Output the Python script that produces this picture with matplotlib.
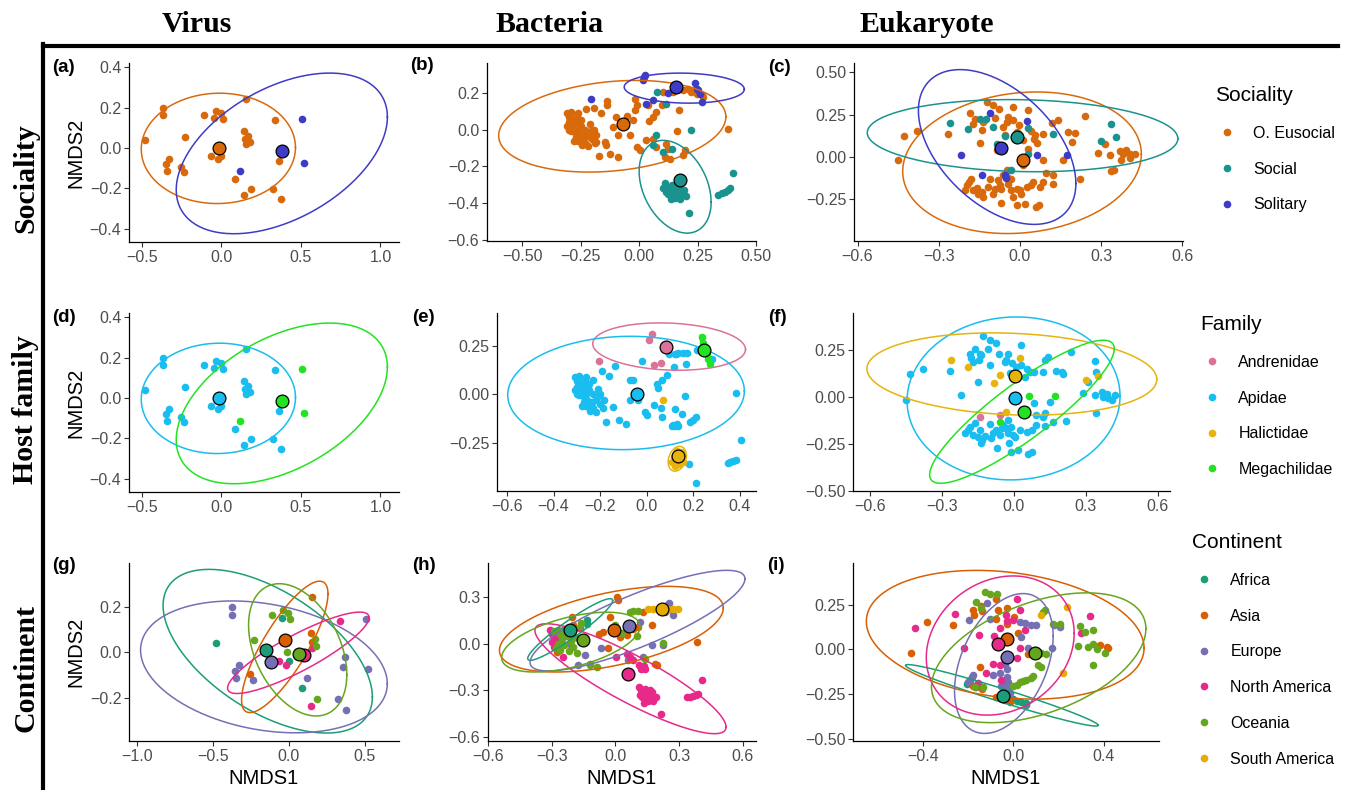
import numpy as np
import matplotlib.pyplot as plt
from matplotlib.lines import Line2D

plt.rcParams['font.family'] = ['Liberation Sans', 'DejaVu Sans']

# ---------------- colours ----------------
soc_names = ['O. Eusocial', 'Social', 'Solitary']
soc_col = {'O. Eusocial': '#D96A0C', 'Social': '#1A938F', 'Solitary': '#3E3BC6'}
fam_names = ['Andrenidae', 'Apidae', 'Halictidae', 'Megachilidae']
fam_col = {'Andrenidae': '#DA7397', 'Apidae': '#19BDF0', 'Halictidae': '#E6B40A', 'Megachilidae': '#22E322'}
cont_names = ['Africa', 'Asia', 'Europe', 'North America', 'Oceania', 'South America']
cont_col = {'Africa': '#1B9E77', 'Asia': '#D95F02', 'Europe': '#7570B3',
            'North America': '#E7298A', 'Oceania': '#66A61E', 'South America': '#E6AB02'}

# ---------------- virus samples (same points in a, d, g) ----------------
virus_x = [-0.48, -0.37, -0.37, -0.23, -0.33, -0.35, -0.345, -0.255, -0.235, -0.11, -0.035, -0.045,
           -0.005, 0.01, -0.065, -0.02, 0.155, 0.145, 0.17, 0.155, 0.18, 0.15, 0.335, 0.36, 0.085,
           0.185, 0.145, 0.325, 0.375, 0.51, 0.52, 0.12, 0.37, -0.01, 0.0]
virus_y = [0.04, 0.20, 0.165, 0.055, -0.055, -0.08, -0.115, -0.095, -0.12, 0.165, 0.185, 0.15,
           0.175, 0.145, -0.04, -0.055, 0.245, 0.085, 0.06, 0.02, 0.03, 0.045, 0.14, -0.065, -0.155,
           -0.205, -0.235, -0.205, -0.255, 0.145, -0.075, -0.115, -0.02, 0.0, -0.04]
virus_soc = ['O. Eusocial'] * 29 + ['Solitary'] * 3 + ['O. Eusocial'] * 3
virus_fam = ['Apidae'] * 29 + ['Megachilidae'] * 3 + ['Apidae'] * 3
virus_cont = ['Africa', 'Europe', 'Europe', 'Oceania', 'Europe', 'Europe', 'Europe', 'Asia', 'Europe',
              'Oceania', 'Oceania', 'Africa', 'Oceania', 'Oceania', 'North America', 'North America',
              'Asia', 'Asia', 'Oceania', 'North America', 'Oceania', 'Asia', 'North America', 'Europe',
              'Africa', 'Oceania', 'North America', 'Europe', 'Europe', 'Europe', 'Europe', 'Europe',
              'Europe', 'Oceania', 'Africa']

# ---------------- bacteria, sociality (b) ----------------
b_cluster = [(-0.31, 0.09), (-0.30, 0.07), (-0.29, 0.095), (-0.285, 0.06), (-0.30, 0.04), (-0.29, 0.03),
             (-0.31, 0.02), (-0.28, 0.01), (-0.27, 0.04), (-0.265, 0.075), (-0.275, -0.01), (-0.29, -0.005),
             (-0.26, 0.0), (-0.25, 0.02), (-0.255, -0.03), (-0.27, -0.04), (-0.24, -0.05), (-0.26, -0.06),
             (-0.245, -0.085), (-0.23, -0.07), (-0.22, -0.03), (-0.23, 0.0), (-0.21, -0.01), (-0.20, -0.05),
             (-0.21, 0.03), (-0.19, -0.07), (-0.22, -0.09), (-0.275, 0.05), (-0.30, 0.0), (-0.28, -0.06),
             (-0.25, 0.055), (-0.235, -0.04), (-0.2, 0.0), (-0.185, -0.03), (-0.26, 0.09)]
b_eusocial = b_cluster + [
    (-0.194, 0.0), (-0.211, -0.04), (-0.183, -0.067), (-0.147, -0.067), (-0.14, -0.085),
    (-0.226, 0.115), (-0.193, 0.12), (-0.164, 0.093), (-0.139, 0.155), (-0.136, 0.136),
    (-0.097, 0.069), (-0.054, 0.073), (-0.09, -0.031), (-0.04, -0.031), (-0.111, 0.015),
    (-0.173, -0.145), (-0.123, -0.133), (-0.09, -0.149),
    (-0.019, 0.169), (-0.009, 0.136), (-0.019, 0.105), (0.039, 0.133), (-0.026, 0.051), (0.043, 0.045),
    (0.06, 0.069), (0.074, 0.096), (0.096, 0.136), (0.171, 0.109), (0.16, -0.009),
    (-0.009, -0.095), (0.003, -0.113), (0.031, -0.058), (0.06, -0.049), (0.074, -0.095), (0.117, -0.076),
    (0.124, -0.104), (0.11, -0.149), (0.131, -0.158), (0.189, -0.14), (0.196, -0.113),
    (0.103, 0.205), (0.146, 0.205), (0.189, 0.218), (0.21, 0.224), (0.22, 0.205), (0.231, 0.215),
    (0.246, 0.196), (0.267, 0.187), (0.274, 0.178), (0.381, 0.005)]
b_pinkcluster = [(0.11, -0.29), (0.12, -0.31), (0.13, -0.33), (0.14, -0.30), (0.15, -0.32), (0.16, -0.34),
                 (0.14, -0.36), (0.125, -0.35), (0.17, -0.31), (0.18, -0.35), (0.155, -0.37), (0.135, -0.38),
                 (0.19, -0.33), (0.115, -0.34), (0.165, -0.29), (0.175, -0.38), (0.2, -0.36), (0.145, -0.345),
                 (0.13, -0.315), (0.1, -0.32)]
b_streak = [(0.339, -0.355), (0.353, -0.347), (0.367, -0.338), (0.381, -0.329), (0.39, -0.32),
            (0.403, -0.235), (0.213, -0.453)]
b_social = [(0.077, 0.205), (0.117, 0.138), (0.074, -0.031), (0.06, -0.085), (0.139, -0.104),
            (0.224, -0.004), (0.1, -0.12)] + b_pinkcluster + b_streak
b_solitary = [(0.02, 0.29), (0.025, 0.3), (0.017, 0.27), (-0.207, 0.169), (0.031, 0.142), (0.06, 0.16),
              (0.124, 0.202), (0.239, 0.255), (0.246, 0.224), (0.26, 0.196), (0.271, 0.151), (0.25, 0.215)]

# ---------------- eukaryote, sociality (c) ----------------
c_eusocial = [
    (-0.43, 0.122), (-0.449, -0.016), (-0.381, 0.154), (-0.264, 0.138), (-0.185, 0.26), (-0.166, 0.226),
    (-0.172, 0.193), (-0.138, 0.207), (-0.139, 0.157), (-0.148, 0.083), (-0.123, 0.325), (-0.101, 0.309),
    (-0.076, 0.285), (-0.092, 0.232), (-0.062, 0.177), (-0.047, 0.207), (-0.043, 0.236), (-0.025, 0.22),
    (-0.002, 0.187), (-0.012, 0.148), (0.012, 0.098), (0.031, 0.28), (0.043, 0.152), (0.055, 0.128),
    (0.062, 0.083), (0.084, 0.138), (0.053, 0.108), (0.117, 0.201), (0.141, 0.217), (0.178, 0.148),
    (0.203, 0.142), (0.191, 0.089), (0.24, 0.242), (-0.025, 0.295), (-0.055, 0.128), (-0.086, 0.039),
    (0.012, -0.049), (0.031, 0.049), (0.086, -0.02), (0.16, -0.02), (0.289, 0.024), (0.314, 0.079),
    (0.332, 0.01), (0.338, -0.083), (0.347, -0.079), (0.369, 0.033), (0.381, 0.02), (0.394, 0.039),
    (0.406, -0.004), (0.408, 0.016), (0.424, 0.016), (0.375, -0.02),
    (-0.197, -0.167), (-0.187, -0.148), (-0.182, -0.128), (-0.203, -0.193), (-0.172, -0.197),
    (-0.16, -0.181), (-0.154, -0.22), (-0.141, -0.207), (-0.135, -0.236), (-0.117, -0.177),
    (-0.111, -0.128), (-0.098, -0.217), (-0.092, -0.187), (-0.08, -0.138), (-0.074, -0.167),
    (-0.068, -0.187), (-0.049, -0.118), (-0.043, -0.157), (-0.031, -0.128), (-0.031, -0.197),
    (-0.025, -0.236), (-0.012, -0.187), (0.0, -0.197), (0.006, -0.217), (-0.012, -0.285),
    (-0.071, -0.272), (0.025, -0.177), (0.043, -0.167), (0.049, -0.148), (0.074, -0.177),
    (0.084, -0.148), (0.096, -0.094), (0.123, -0.108), (0.123, -0.157), (0.018, -0.28), (0.059, -0.295),
    (0.071, -0.285), (0.221, -0.128), (-0.049, -0.079), (-0.062, -0.108)]
c_social = [(-0.258, 0.2), (-0.19, 0.163), (-0.148, 0.222), (-0.125, 0.222), (-0.098, 0.177), (-0.055, 0.122),
            (-0.084, 0.075), (0.031, 0.171), (0.123, 0.134), (0.031, 0.016), (-0.034, -0.079),
            (0.301, 0.093), (0.338, 0.193), (0.354, 0.118)]
c_solitary = [(-0.111, 0.262), (0.025, 0.213), (-0.218, 0.014), (0.062, 0.01), (0.175, 0.01),
              (-0.14, -0.104), (-0.053, -0.124), (-0.055, -0.105)]

# ---------------- bacteria, family (e) ----------------
e_apidae = b_cluster + [
    (-0.229, 0.072), (-0.193, 0.119), (-0.164, 0.093), (-0.136, 0.146), (-0.143, -0.065), (-0.174, -0.143),
    (-0.121, -0.131), (-0.091, -0.151), (-0.071, 0.072), (-0.057, 0.072), (-0.071, -0.031), (-0.036, -0.031),
    (-0.02, 0.17), (-0.007, -0.091), (0.0, -0.108), (0.033, -0.057), (0.043, 0.055), (0.05, 0.034),
    (0.064, 0.072), (0.06, -0.07), (0.064, -0.117), (0.086, 0.098), (0.117, 0.141), (0.121, -0.074),
    (0.114, -0.16), (0.107, -0.165), (0.121, -0.165), (0.129, -0.155), (0.136, -0.165), (0.15, -0.1),
    (0.164, -0.01), (0.169, 0.158), (0.2, -0.131), (0.186, -0.143), (0.211, -0.117), (0.154, 0.215),
    (0.174, 0.215), (0.097, 0.21), (0.121, 0.21), (0.136, 0.213), (0.214, 0.23), (0.279, 0.184),
    (0.383, 0.007), (0.403, -0.237), (0.35, -0.352), (0.357, -0.348), (0.371, -0.343), (0.383, -0.34),
    (0.183, -0.357), (0.211, -0.457)]
e_andrenidae = [(-0.204, 0.172), (0.021, 0.309), (0.011, 0.278), (0.029, 0.149), (0.06, 0.163), (0.126, 0.206)]
e_halictidae = [(0.071, -0.031), (0.12, -0.31), (0.13, -0.33), (0.14, -0.32), (0.125, -0.345), (0.145, -0.34),
                (0.135, -0.355), (0.115, -0.325), (0.15, -0.31), (0.14, -0.36), (0.13, -0.29), (0.11, -0.35),
                (0.155, -0.35), (0.12, -0.37), (0.145, -0.295)]
e_megachilidae = [(0.236, 0.296), (0.243, 0.265), (0.25, 0.24), (0.257, 0.21), (0.264, 0.18), (0.271, 0.157)]

# ---------------- eukaryote, family (f) ----------------
f_apidae = [
    (-0.45, -0.016), (-0.431, 0.122), (-0.378, 0.152), (-0.264, 0.138), (-0.218, 0.011), (-0.149, 0.081),
    (-0.163, 0.258), (-0.181, 0.228), (-0.169, 0.188), (-0.176, 0.211), (-0.142, 0.232), (-0.128, 0.324),
    (-0.1, 0.306), (-0.107, 0.258), (-0.135, 0.223), (-0.144, 0.2), (-0.1, 0.173), (-0.075, 0.288),
    (-0.061, 0.227), (-0.037, 0.188), (-0.024, 0.228), (-0.031, 0.2), (-0.006, 0.182), (-0.003, 0.126),
    (-0.014, 0.126), (0.011, 0.161), (0.029, 0.28), (0.032, 0.17), (0.046, 0.108), (0.053, 0.152),
    (0.069, 0.135), (0.083, 0.135), (0.122, 0.135), (0.129, 0.196), (0.143, 0.214), (0.175, 0.138),
    (0.199, 0.135), (0.206, 0.122), (0.24, 0.241), (0.338, 0.191), (0.344, 0.135), (0.289, 0.023),
    (0.31, 0.081), (0.338, 0.011), (0.365, 0.028), (0.372, 0.002), (0.386, 0.019), (0.393, -0.007),
    (0.407, -0.016), (0.421, 0.011), (0.344, -0.087), (0.15, -0.025), (0.083, -0.03), (0.094, -0.096),
    (0.122, -0.108), (0.129, -0.154), (0.164, -0.131), (0.219, -0.126), (0.129, -0.087),
    (-0.204, -0.189), (-0.19, -0.175), (-0.183, -0.158), (-0.169, -0.202), (-0.163, -0.14),
    (-0.142, -0.175), (-0.149, -0.211), (-0.131, -0.228), (-0.121, -0.207), (-0.135, -0.246),
    (-0.093, -0.219), (-0.086, -0.189), (-0.072, -0.175), (-0.069, -0.273), (-0.058, -0.202),
    (-0.051, -0.166), (-0.044, -0.149), (-0.031, -0.166), (-0.024, -0.193), (-0.019, -0.246),
    (-0.01, -0.158), (-0.003, -0.202), (0.004, -0.211), (-0.01, -0.29), (0.018, -0.281), (0.025, -0.175),
    (0.053, -0.184), (0.074, -0.175), (0.094, -0.149), (0.06, -0.303), (0.074, -0.29), (-0.1, -0.143),
    (-0.024, -0.122)]
f_andrenidae = [(-0.142, -0.104), (-0.056, -0.096)]
f_halictidae = [(-0.26, 0.196), (-0.19, 0.161), (-0.056, 0.12), (-0.082, 0.076), (0.025, 0.211),
                (0.3, 0.09), (0.351, 0.113), (-0.033, -0.081)]
f_megachilidae = [(0.064, 0.007), (0.172, 0.007), (-0.056, -0.131)]

# ---------------- bacteria, continent (h) ----------------
h_africa = [(-0.135, 0.15), (-0.132, 0.124), (-0.245, 0.086), (-0.229, 0.064), (-0.276, 0.021)]
h_asia = [(0.014, 0.278), (0.009, 0.3), (-0.025, 0.171), (-0.057, 0.075), (-0.075, 0.064), (-0.033, -0.026),
          (0.022, 0.043), (0.053, 0.054), (0.085, 0.096), (0.104, 0.107), (0.171, 0.118), (0.129, 0.203),
          (0.383, 0.011), (0.187, -0.128), (0.195, -0.139), (-0.206, 0.171), (-0.198, 0.118), (-0.276, -0.054)]
h_europe = [(0.242, 0.246), (0.257, 0.225), (0.273, 0.182), (0.234, 0.203), (0.25, 0.261), (0.116, 0.139),
            (-0.069, -0.028), (-0.143, -0.075), (-0.119, -0.128), (-0.174, -0.139), (0.226, -0.006),
            (0.171, -0.011), (0.061, -0.107), (0.132, -0.086), (-0.213, 0.0), (-0.166, 0.1)]
h_namerica = [(0.11, -0.28), (0.12, -0.3), (0.13, -0.32), (0.14, -0.29), (0.15, -0.33), (0.16, -0.35),
              (0.14, -0.36), (0.125, -0.34), (0.17, -0.31), (0.18, -0.35), (0.155, -0.37), (0.135, -0.38),
              (0.19, -0.34), (0.115, -0.33), (0.165, -0.3), (0.175, -0.37), (0.145, -0.345), (0.13, -0.31),
              (0.336, -0.345), (0.35, -0.34), (0.365, -0.335), (0.378, -0.33), (0.39, -0.32),
              (0.407, -0.231), (0.215, -0.45), (0.11, -0.14), (0.125, -0.15), (0.14, -0.16), (0.12, -0.16),
              (0.135, -0.145), (0.003, -0.086), (0.053, -0.064), (0.069, -0.086), (0.085, -0.107),
              (-0.31, 0.086), (-0.3, 0.06), (-0.29, 0.03), (-0.28, 0.0), (-0.3, 0.01), (-0.27, 0.05),
              (-0.29, -0.02), (-0.245, -0.086)]
h_oceania = [(-0.29, 0.08), (-0.27, 0.09), (-0.26, 0.06), (-0.25, 0.03), (-0.27, 0.0), (-0.24, -0.01),
             (-0.26, -0.04), (-0.23, 0.05), (-0.21, 0.02), (-0.22, -0.05), (-0.2, -0.02), (-0.19, 0.04),
             (-0.18, -0.06), (-0.24, 0.07), (-0.28, -0.03), (-0.17, 0.1), (-0.16, 0.13), (-0.088, -0.15),
             (-0.12, -0.14), (0.085, 0.208), (0.104, 0.208), (0.069, 0.203), (0.226, 0.006), (0.14, -0.096),
             (0.1, 0.05), (0.0, 0.12), (0.03, 0.07)]
h_samerica = [(0.155, 0.221), (0.179, 0.225), (0.242, 0.218), (0.273, 0.223), (0.297, 0.223)]

# ---------------- eukaryote, continent (i) ----------------
i_africa = [(-0.192, -0.183), (-0.204, -0.193), (0.015, -0.285), (0.037, -0.291), (0.059, -0.3),
            (0.056, -0.306), (0.0, -0.278)]
i_asia = [(-0.45, -0.019), (-0.379, 0.154), (-0.268, 0.135), (-0.177, 0.219), (-0.173, 0.191), (-0.14, 0.241),
          (-0.136, 0.215), (-0.077, 0.283), (-0.066, 0.219), (-0.029, 0.233), (0.004, 0.181), (-0.077, 0.172),
          (0.022, 0.093), (0.066, -0.026), (-0.147, -0.1), (-0.177, -0.204), (-0.136, -0.222),
          (-0.074, -0.263), (-0.037, -0.281), (-0.015, -0.291), (0.386, 0.024), (0.413, 0.015),
          (0.42, 0.006), (-0.029, 0.141)]
i_europe = [(-0.115, 0.261), (-0.103, 0.172), (0.029, 0.154), (0.052, 0.148), (0.081, 0.135), (0.103, 0.135),
            (0.037, 0.067), (0.066, 0.009), (0.174, 0.009), (0.18, 0.135), (0.206, 0.126), (-0.195, 0.163),
            (-0.184, -0.152), (-0.177, -0.143), (-0.199, -0.18), (-0.192, -0.167), (-0.088, -0.143),
            (-0.059, -0.133), (-0.029, -0.152), (-0.022, -0.18), (-0.037, -0.189), (-0.015, -0.207),
            (-0.052, -0.204), (-0.044, -0.217), (-0.027, -0.106), (-0.037, -0.078), (-0.012, -0.244)]
i_namerica = [(-0.435, 0.122), (-0.258, 0.2), (-0.218, 0.011), (-0.152, 0.08), (-0.084, 0.074), (-0.059, 0.122),
              (-0.032, 0.191), (0.0, 0.163), (0.019, 0.278), (0.029, 0.219), (0.052, 0.107), (0.029, 0.011),
              (0.015, -0.05), (-0.059, -0.087), (-0.088, -0.083), (-0.118, -0.133), (-0.052, -0.17),
              (-0.155, -0.189), (-0.162, -0.207), (0.339, 0.187), (0.298, 0.093), (-0.029, 0.159)]
i_oceania = [(-0.125, 0.32), (-0.103, 0.311), (-0.165, 0.265), (-0.14, 0.228), (-0.071, 0.307), (0.111, -0.087),
             (0.125, -0.1), (0.081, -0.161), (0.088, -0.148), (0.059, -0.17), (0.044, -0.174), (0.029, -0.18),
             (0.015, -0.198), (0.0, -0.204), (0.14, 0.219), (0.133, 0.209), (0.177, 0.144), (0.206, 0.141),
             (0.295, 0.13), (0.317, 0.098), (0.351, 0.111), (0.288, 0.019), (0.332, 0.015), (0.354, 0.033),
             (0.369, 0.0), (0.406, -0.019), (0.351, -0.087), (0.147, -0.026), (0.125, -0.022),
             (-0.17, -0.207), (-0.133, -0.211)]
i_samerica = [(0.125, 0.194), (0.239, 0.237), (0.221, -0.133)]

# ---------------- centroids ----------------
a_cent = {'O. Eusocial': (-0.015, 0.0), 'Solitary': (0.38, -0.015)}
b_cent = {'O. Eusocial': (-0.069, 0.029), 'Social': (0.174, -0.273), 'Solitary': (0.157, 0.233)}
c_cent = {'O. Eusocial': (0.012, -0.016), 'Social': (-0.012, 0.118), 'Solitary': (-0.071, 0.055)}
d_cent = {'Apidae': (-0.015, 0.0), 'Megachilidae': (0.38, -0.015)}
e_cent = {'Andrenidae': (0.081, 0.244), 'Apidae': (-0.04, 0.003), 'Halictidae': (0.136, -0.32),
          'Megachilidae': (0.247, 0.227)}
f_cent = {'Apidae': (0.004, -0.004), 'Halictidae': (0.007, 0.112), 'Megachilidae': (0.042, -0.078)}
g_cent = {'Africa': (-0.149, 0.009), 'Asia': (-0.022, 0.056), 'Europe': (-0.116, -0.042),
          'North America': (0.103, -0.013), 'Oceania': (0.07, -0.006)}
h_cent = {'Africa': (-0.214, 0.086), 'Asia': (-0.005, 0.09), 'Europe': (0.066, 0.111),
          'North America': (0.057, -0.197), 'Oceania': (-0.151, 0.026), 'South America': (0.221, 0.221)}
i_cent = {'Africa': (-0.044, -0.257), 'Asia': (-0.027, 0.061), 'Europe': (-0.029, -0.041),
          'North America': (-0.066, 0.028), 'Oceania': (0.097, -0.019)}

# ---------------- ellipses: centre x, centre y, half width, half height, x-offset of top point ----------------
a_ell = {'O. Eusocial': (-0.019, -0.002, 0.485, 0.274, 0.008), 'Solitary': (0.38, -0.027, 0.664, 0.399, 0.301)}
b_ell = {'O. Eusocial': (-0.115, 0.019, 0.486, 0.25, 0.1), 'Social': (0.154, -0.311, 0.154, 0.253, -0.051),
         'Solitary': (0.193, 0.227, 0.257, 0.082, -0.019)}
c_ell = {'O. Eusocial': (0.008, -0.034, 0.441, 0.418, 0.054), 'Social': (0.01, 0.126, 0.574, 0.213, -0.047),
         'Solitary': (-0.084, 0.059, 0.291, 0.457, -0.137)}
d_ell = {'Apidae': (-0.019, -0.002, 0.485, 0.274, 0.008), 'Megachilidae': (0.38, -0.027, 0.664, 0.399, 0.301)}
e_ell = {'Andrenidae': (0.096, 0.246, 0.328, 0.122, -0.039), 'Apidae': (-0.089, 0.007, 0.508, 0.292, 0.018),
         'Halictidae': (0.131, -0.332, 0.039, 0.064, 0.01), 'Megachilidae': (0.253, 0.227, 0.025, 0.077, -0.023)}
f_ell = {'Apidae': (-0.001, -0.007, 0.443, 0.434, 0.0125), 'Halictidae': (-0.008, 0.123, 0.603, 0.219, -0.078),
         'Megachilidae': (0.034, -0.078, 0.384, 0.381, 0.338)}
g_ell = {'Africa': (-0.138, 0.005, 0.688, 0.36, -0.385), 'Asia': (-0.026, 0.024, 0.284, 0.289, 0.229),
         'Europe': (-0.163, -0.064, 0.811, 0.29, -0.207), 'North America': (0.063, -0.002, 0.465, 0.179, 0.403),
         'Oceania': (0.059, 0.011, 0.323, 0.291, -0.121)}
h_ell = {'Africa': (-0.213, 0.091, 0.2, 0.198, 0.188), 'Asia': (-0.019, 0.093, 0.527, 0.275, 0.261),
         'Europe': (0.104, 0.148, 0.506, 0.323, 0.42), 'North America': (0.071, -0.225, 0.45, 0.353, -0.395),
         'Oceania': (-0.21, 0.01, 0.326, 0.192, 0.169), 'South America': (0.226, 0.223, 0.078, 0.013, 0.0)}
i_ell = {'Africa': (-0.05, -0.255, 0.426, 0.171, -0.415), 'Asia': (-0.035, 0.082, 0.614, 0.358, -0.127),
         'Europe': (-0.041, -0.078, 0.218, 0.389, 0.085), 'North America': (-0.057, 0.022, 0.327, 0.387, 0.057),
         'Oceania': (0.113, -0.046, 0.474, 0.361, 0.212)}


def group_points(xs, ys, labels):
    out = {}
    for x, y, g in zip(xs, ys, labels):
        out.setdefault(g, []).append((x, y))
    return out


def ellipse_xy(cx, cy, a, b, dx_top):
    t = np.linspace(0, 2 * np.pi, 300)
    phi = np.arcsin(np.clip(dx_top / a, -1, 1))
    return cx + a * np.cos(t), cy + b * np.sin(t + phi)


def lab(v, d):
    return f"{v:.{d}f}".replace('-', '\u2212')


W, H = 1349, 790
fig = plt.figure(figsize=(W / 100, H / 100), dpi=100)


def panel(box, groups, order, colors, cents, ells, xlim, ylim, xticks, yticks, xd, yd, tag):
    l, r, t, b = box
    ax = fig.add_axes([l / W, 1 - b / H, (r - l) / W, (b - t) / H])
    for g in order:
        if g in groups:
            xs, ys = zip(*groups[g])
            ax.scatter(xs, ys, s=30, color=colors[g], linewidths=0, zorder=2)
    for g in order:
        if g in ells:
            ex, ey = ellipse_xy(*ells[g])
            ax.plot(ex, ey, color=colors[g], lw=1.1, zorder=3)
    for g in order:
        if g in cents:
            ax.scatter([cents[g][0]], [cents[g][1]], s=85, color=colors[g], edgecolors='black',
                       linewidths=0.9, zorder=4)
    ax.set_xlim(*xlim)
    ax.set_ylim(*ylim)
    ax.set_xticks(xticks, [lab(v, xd) for v in xticks])
    ax.set_yticks(yticks, [lab(v, yd) for v in yticks])
    for s in ['top', 'right']:
        ax.spines[s].set_visible(False)
    for s in ['left', 'bottom']:
        ax.spines[s].set_linewidth(0.9)
    ax.tick_params(labelsize=11.5, labelcolor='#4D4D4D', color='#333333', length=3.5, width=0.8, pad=2)
    fig.text(tag[1] / W, 1 - tag[2] / H, tag[0], fontsize=13.5, fontweight='bold', ha='left', va='center')
    return ax


virus_lim = ((-0.581, 1.117), (-0.467, 0.422))
ax = panel((129, 399, 63, 242), group_points(virus_x, virus_y, virus_soc), soc_names, soc_col, a_cent, a_ell,
           *virus_lim, [-0.5, 0.0, 0.5, 1.0], [-0.4, -0.2, 0.0, 0.2, 0.4], 1, 1, ('(a)', 52, 68))
ax.set_ylabel('NMDS2', fontsize=14.5, labelpad=3)
panel((487, 756, 63, 241), {'O. Eusocial': b_eusocial, 'Social': b_social, 'Solitary': b_solitary},
      soc_names, soc_col, b_cent, b_ell, (-0.651, 0.5), (-0.607, 0.364),
      [-0.5, -0.25, 0.0, 0.25, 0.5], [-0.6, -0.4, -0.2, 0.0, 0.2], 2, 1, ('(b)', 410, 66))
panel((854, 1183, 63, 241), {'O. Eusocial': c_eusocial, 'Social': c_social, 'Solitary': c_solitary},
      soc_names, soc_col, c_cent, c_ell, (-0.613, 0.603), (-0.496, 0.555),
      [-0.6, -0.3, 0.0, 0.3, 0.6], [-0.25, 0.0, 0.25, 0.5], 1, 2, ('(c)', 768, 68))

ax = panel((129, 399, 313, 492), group_points(virus_x, virus_y, virus_fam), fam_names, fam_col, d_cent, d_ell,
           *virus_lim, [-0.5, 0.0, 0.5, 1.0], [-0.4, -0.2, 0.0, 0.2, 0.4], 1, 1, ('(d)', 52, 318))
ax.set_ylabel('NMDS2', fontsize=14.5, labelpad=3)
panel((497, 756, 313, 491), {'Andrenidae': e_andrenidae, 'Apidae': e_apidae, 'Halictidae': e_halictidae,
                             'Megachilidae': e_megachilidae},
      fam_names, fam_col, e_cent, e_ell, (-0.643, 0.469), (-0.498, 0.419),
      [-0.6, -0.4, -0.2, 0.0, 0.2, 0.4], [-0.25, 0.0, 0.25], 1, 2, ('(e)', 412, 318))
panel((853, 1170, 313, 491), {'Andrenidae': f_andrenidae, 'Apidae': f_apidae, 'Halictidae': f_halictidae,
                              'Megachilidae': f_megachilidae},
      fam_names, fam_col, f_cent, f_ell, (-0.669, 0.65), (-0.5, 0.448),
      [-0.6, -0.3, 0.0, 0.3, 0.6], [-0.5, -0.25, 0.0, 0.25], 1, 2, ('(f)', 768, 318))

ax = panel((129, 399, 563, 741), group_points(virus_x, virus_y, virus_cont), cont_names, cont_col, g_cent, g_ell,
           (-1.05, 0.725), (-0.39, 0.393), [-1.0, -0.5, 0.0, 0.5], [-0.2, 0.0, 0.2], 1, 1, ('(g)', 52, 566))
ax.set_ylabel('NMDS2', fontsize=14.5, labelpad=3)
ax.set_xlabel('NMDS1', fontsize=14.5, labelpad=4)
ax = panel((488, 756, 563, 741), {'Africa': h_africa, 'Asia': h_asia, 'Europe': h_europe,
                                  'North America': h_namerica, 'Oceania': h_oceania, 'South America': h_samerica},
           cont_names, cont_col, h_cent, h_ell, (-0.598, 0.662), (-0.625, 0.518),
           [-0.6, -0.3, 0.0, 0.3, 0.6], [-0.6, -0.3, 0.0, 0.3], 1, 1, ('(h)', 412, 566))
ax.set_xlabel('NMDS1', fontsize=14.5, labelpad=4)
ax = panel((853, 1159, 563, 741), {'Africa': i_africa, 'Asia': i_asia, 'Europe': i_europe,
                                   'North America': i_namerica, 'Oceania': i_oceania, 'South America': i_samerica},
           cont_names, cont_col, i_cent, i_ell, (-0.708, 0.645), (-0.509, 0.481),
           [-0.4, 0.0, 0.4], [-0.5, -0.25, 0.0, 0.25], 1, 2, ('(i)', 767, 566))
ax.set_xlabel('NMDS1', fontsize=14.5, labelpad=4)


def add_legend(title, names, colors, x, y):
    handles = [Line2D([], [], marker='o', ls='none', color=colors[n], markersize=4.5) for n in names]
    fig.legend(handles, names, title=title, loc='upper left', bbox_to_anchor=(x / W, 1 - y / H),
               frameon=False, fontsize=11.5, title_fontsize=15, handlelength=1.5, handletextpad=0.9,
               labelspacing=1.3, borderpad=0, borderaxespad=0, alignment='left')


add_legend('Sociality', soc_names, soc_col, 1215, 86)
add_legend('Family', fam_names, fam_col, 1200, 315)
add_legend('Continent', cont_names, cont_col, 1192, 533)

# column / row headers
serif = dict(family=['Liberation Serif', 'DejaVu Serif'], fontweight='bold', fontsize=21.5)
for name, x in [('Virus', 197), ('Bacteria', 550), ('Eukaryote', 927)]:
    fig.text(x / W, 1 - 25 / H, name, ha='center', va='center', **serif)
for name, y in [('Sociality', 178), ('Host family', 410), ('Continent', 668)]:
    fig.text(26 / W, 1 - y / H, name, ha='center', va='center', rotation=90, **serif)

# framing lines
fig.add_artist(Line2D([43 / W, 43 / W], [1 - 44 / H, 0], color='black', lw=3, transform=fig.transFigure))
fig.add_artist(Line2D([43 / W, 1338 / W], [1 - 46 / H, 1 - 46 / H], color='black', lw=3,
                      transform=fig.transFigure))

fig.savefig('out.png', dpi=100)
